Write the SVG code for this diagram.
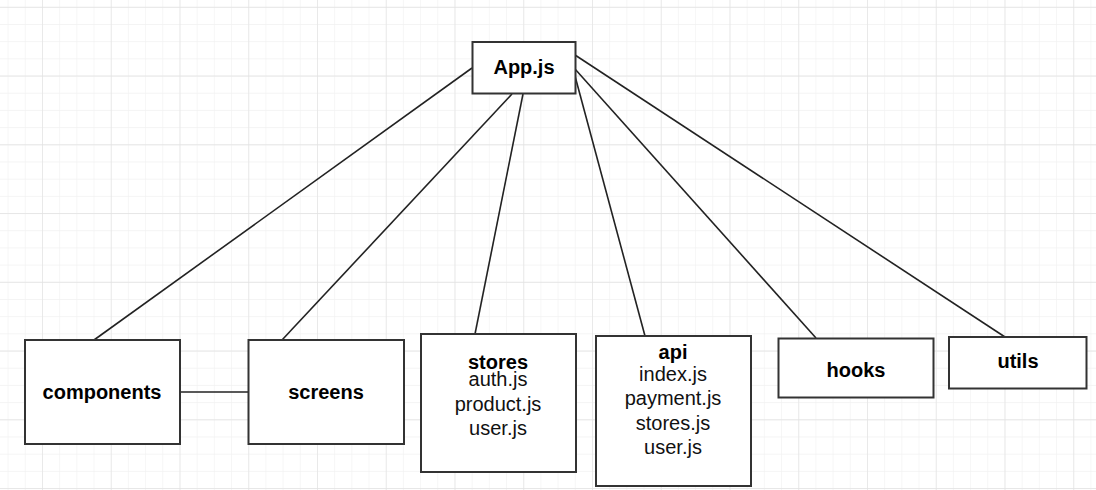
<svg xmlns="http://www.w3.org/2000/svg" width="1096" height="490" viewBox="0 0 1096 490">
  <defs>
    <pattern id="minor" x="7.6" y="6.8" width="17.1875" height="17.1875" patternUnits="userSpaceOnUse">
      <path d="M 0 0 L 17.1875 0 M 0 0 L 0 17.1875" fill="none" stroke="#f1f1f1" stroke-width="1.2"/>
    </pattern>
    <pattern id="major" x="42" y="6.8" width="68.75" height="68.75" patternUnits="userSpaceOnUse">
      <path d="M 0 0 L 68.75 0 M 0 0 L 0 68.75" fill="none" stroke="#e2e2e2" stroke-width="1.3"/>
    </pattern>
    <style>
      .box { fill: #ffffff; stroke: #333333; stroke-width: 2; }
      .edge { fill: none; stroke: #222222; stroke-width: 1.6; }
      .title { font-family: "Liberation Sans", Arial, sans-serif; font-weight: bold; font-size: 20px; fill: #000000; text-anchor: middle; }
      .item { font-family: "Liberation Sans", Arial, sans-serif; font-size: 20px; fill: #111111; text-anchor: middle; }
    </style>
  </defs>
  <rect width="1096" height="490" fill="#ffffff"/>
  <rect width="1096" height="490" fill="url(#minor)"/>
  <rect width="1096" height="490" fill="url(#major)"/>

  <g id="connectors">
    <line class="edge" x1="472" y1="68" x2="94" y2="340"/>
    <line class="edge" x1="512" y1="94" x2="282" y2="340"/>
    <line class="edge" x1="523" y1="94" x2="475" y2="334"/>
    <line class="edge" x1="575" y1="76" x2="645" y2="336"/>
    <line class="edge" x1="575" y1="69" x2="816" y2="338"/>
    <line class="edge" x1="575" y1="55" x2="1005" y2="337"/>
    <line class="edge" x1="180" y1="392" x2="248" y2="392"/>
  </g>

  <g id="app">
    <rect class="box" x="472.5" y="42" width="103" height="51.5"/>
    <text class="title" x="524" y="74">App.js</text>
  </g>
  <g id="components">
    <rect class="box" x="25" y="340" width="155" height="104"/>
    <text class="title" x="102" y="399">components</text>
  </g>
  <g id="screens">
    <rect class="box" x="248.5" y="340" width="155.5" height="104"/>
    <text class="title" x="326" y="399">screens</text>
  </g>
  <g id="stores">
    <rect class="box" x="421" y="334" width="155" height="138"/>
    <text class="title" x="498" y="369">stores</text>
    <text class="item" x="498" y="386">auth.js</text>
    <text class="item" x="498" y="411">product.js</text>
    <text class="item" x="498" y="435">user.js</text>
  </g>
  <g id="api">
    <rect class="box" x="596" y="336" width="155" height="150"/>
    <text class="title" x="673" y="359">api</text>
    <text class="item" x="673" y="381">index.js</text>
    <text class="item" x="673" y="405">payment.js</text>
    <text class="item" x="673" y="430">stores.js</text>
    <text class="item" x="673" y="454">user.js</text>
  </g>
  <g id="hooks">
    <rect class="box" x="778.5" y="338.5" width="155" height="59"/>
    <text class="title" x="856" y="377">hooks</text>
  </g>
  <g id="utils">
    <rect class="box" x="949" y="337" width="137.5" height="51.5"/>
    <text class="title" x="1018" y="368">utils</text>
  </g>
</svg>
